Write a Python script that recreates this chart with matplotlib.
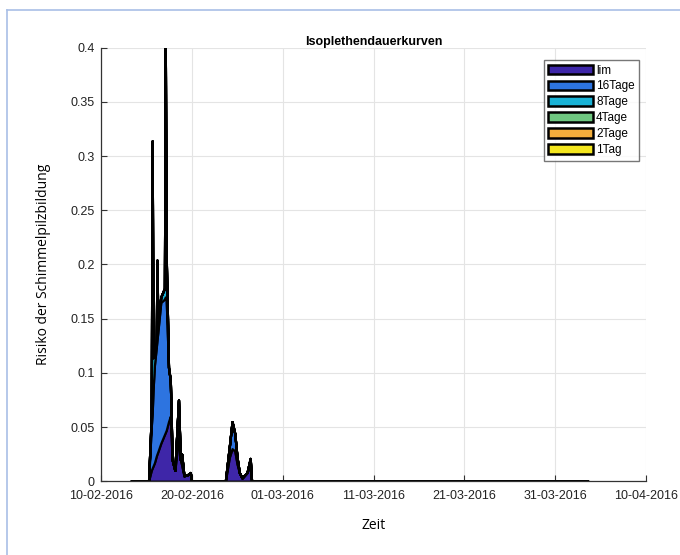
import numpy as np
import pandas as pd
import matplotlib
matplotlib.use('Agg')
import matplotlib.pyplot as plt
import matplotlib.dates as mdates
from matplotlib.lines import Line2D

plt.rcParams['font.family'] = ['Liberation Sans', 'DejaVu Sans']

# Zeitpunkte in Tagen ab 10-02-2016
start = pd.Timestamp('2016-02-10')
tage = [3.26, 5.20, 5.50, 5.60, 5.70, 5.85, 6.05, 6.13, 6.22, 6.55, 6.95, 7.05, 7.15,
        7.40, 7.60, 7.80, 8.10, 8.50, 8.70, 8.85, 9.10, 9.50, 9.80, 9.95,
        13.66, 14.10, 14.40, 14.70, 14.95, 15.20, 15.50, 16.05, 16.40, 16.55, 53.6]

# Risiko je Isoplethe (gestapelt)
lim = [0, 0, 0.010, 0.012, 0.014, 0.017, 0.023, 0.025, 0.027, 0.035, 0.043, 0.045, 0.047,
       0.055, 0.060, 0.020, 0.010, 0.040, 0.020, 0.015, 0.005, 0.006, 0.008, 0,
       0, 0.022, 0.030, 0.028, 0.016, 0.008, 0.003, 0.008, 0.015, 0, 0]
tage16 = [0, 0, 0.040, 0.050, 0.070, 0.090, 0.100, 0.105, 0.110, 0.130, 0.125, 0.125, 0.120,
          0.050, 0.033, 0, 0, 0.035, 0, 0.010, 0, 0, 0, 0,
          0, 0.010, 0.025, 0.016, 0.006, 0, 0, 0, 0.006, 0, 0]
tage8 = [0, 0, 0.010, 0.252, 0.030, 0.010, 0.005, 0.074, 0.010, 0.005, 0.010, 0.230, 0.040,
         0, 0, 0, 0, 0, 0, 0, 0, 0, 0, 0,
         0, 0, 0, 0, 0, 0, 0, 0, 0, 0, 0]
tage4 = [0] * len(tage)
tage2 = [0] * len(tage)
tag1 = [0] * len(tage)

labels = ['lim', '16Tage', '8Tage', '4Tage', '2Tage', '1Tag']
farben = ['#3e26a8', '#2d74e0', '#19b2d6', '#6fc780', '#f3ae3c', '#f4e61e']

zeit = [start + pd.Timedelta(days=t) for t in tage]

fig = plt.figure(figsize=(6.8, 5.55), dpi=100)
ax = fig.add_axes([0.149, 0.133, 0.801, 0.781])

ax.stackplot(zeit, lim, tage16, tage8, tage4, tage2, tag1,
             labels=labels, colors=farben, edgecolor='black', linewidth=1.6)

ax.set_xlim(pd.Timestamp('2016-02-10'), pd.Timestamp('2016-04-10'))
ax.set_ylim(0, 0.4)
ax.set_xticks(pd.date_range('2016-02-10', '2016-04-10', freq='10D'))
ax.xaxis.set_major_formatter(mdates.DateFormatter('%d-%m-%Y'))
ax.set_yticks(np.arange(0, 0.401, 0.05))
ax.set_yticklabels(['0', '0.05', '0.1', '0.15', '0.2', '0.25', '0.3', '0.35', '0.4'])

ax.grid(True, color='#e4e4e4', linewidth=0.8)
ax.set_axisbelow(True)
for s in ['top', 'right']:
    ax.spines[s].set_visible(False)
for s in ['left', 'bottom']:
    ax.spines[s].set_color('#333333')
    ax.spines[s].set_linewidth(0.9)
ax.tick_params(direction='in', length=4, colors='#333333', labelsize=9,
               labelcolor='#222222')
ax.tick_params(axis='x', pad=6)
ax.tick_params(axis='y', pad=5)

ax.set_title('Isoplethendauerkurven', fontsize=9, fontweight='bold', pad=1)
ax.set_xlabel('Zeit', fontsize=10, labelpad=12, family=['Open Sans', 'DejaVu Sans'])
ax.set_ylabel('Risiko der Schimmelpilzbildung', fontsize=10, labelpad=14,
              family=['Open Sans', 'DejaVu Sans'])

leg = ax.legend(loc='upper right', bbox_to_anchor=(0.988, 0.972), borderaxespad=0,
                fontsize=8.5, frameon=True, fancybox=False, edgecolor='#555555',
                handlelength=3.8, handleheight=0.9, handletextpad=0.25,
                labelspacing=0.33, borderpad=0.4)
for h in leg.legend_handles:
    h.set_edgecolor('black')
    h.set_linewidth(1.8)

# Rahmen der Dokumentseite
fig.add_artist(Line2D([7 / 680, 1], [1 - 10 / 555, 1 - 10 / 555], color='#a9bfe6', lw=1.2))
fig.add_artist(Line2D([7 / 680, 7 / 680], [0, 1 - 10 / 555], color='#a9bfe6', lw=1.2))

fig.savefig('out.png', dpi=100)
